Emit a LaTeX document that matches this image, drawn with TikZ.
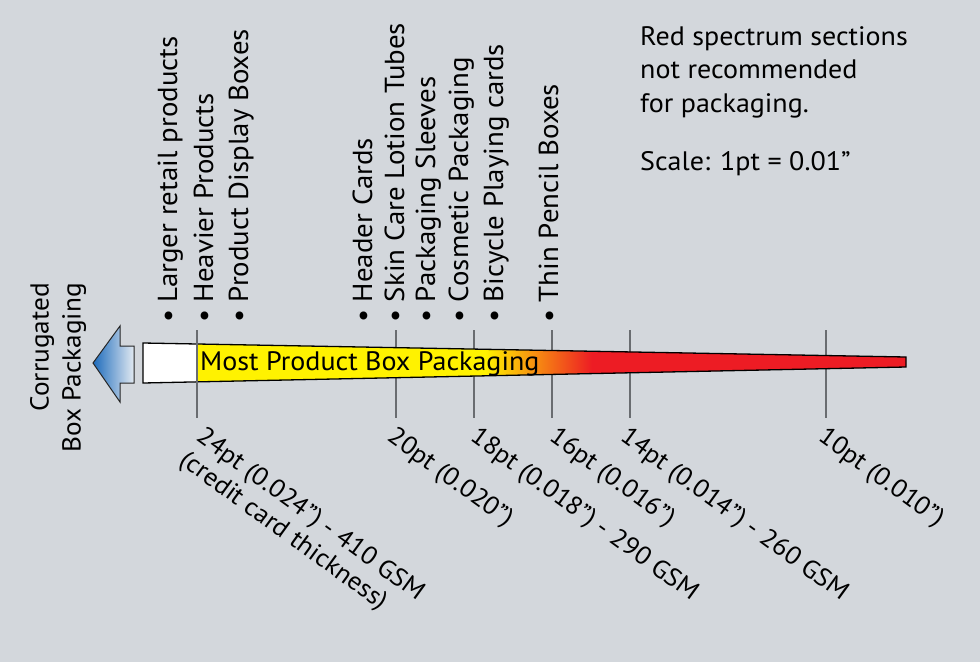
\documentclass[tikz,border=0pt]{standalone}
\usepackage{fontspec}
\setmainfont{PT Sans}[FakeStretch=1.05]
\usetikzlibrary{calc}
\definecolor{bggray}{RGB}{211,215,220}
\definecolor{tickgray}{RGB}{105,108,112}
\definecolor{wedgeyellow}{RGB}{255,242,0}
\definecolor{wedgered}{RGB}{237,28,36}
\definecolor{arrowblue}{RGB}{30,108,188}
\definecolor{arrowpale}{RGB}{226,233,241}
\newcommand{\bigfont}{\fontsize{26.7}{32}\selectfont}
\tikzset{item/.style={rotate=90,anchor=base west,inner sep=0pt,font=\fontsize{27.5}{32}\selectfont},
  gauge/.style={rotate=-36,anchor=north west,inner sep=0pt,align=left,font=\fontsize{25.5}{29}\selectfont},
  tickline/.style={draw=tickgray,line width=1.3pt},
  outline/.style={draw=black,line width=1.3pt}}

\begin{document}
\begin{tikzpicture}[x=1pt,y=-1pt]
\fill[bggray] (0,0) rectangle (980,662);
\useasboundingbox (0,0) rectangle (980,662);
% thickness ticks
\foreach \x/\n in {396/20,474/18,552/16,630/14,826/10}{\coordinate (t\n) at (\x,330); \draw[tickline] (t\n) -- ++(0,88);}
% wedge
\coordinate (wtl) at (143,343); \coordinate (wbl) at (143,383); \coordinate (wtr) at (906,357); \coordinate (wbr) at (906,367);
\coordinate (ytl) at (197,344); \coordinate (ybl) at (197,382);
\fill[white] (wtl) -- (ytl) -- (ybl) -- (wbl) -- cycle;
\begin{scope}
\clip (ytl) -- (wtr) -- (wbr) -- (ybl) -- cycle;
\fill[wedgeyellow] (197,330) rectangle (485,400);
\shade[left color=wedgeyellow,right color=wedgered] (485,330) rectangle (592,400);
\fill[wedgered] (592,330) rectangle (910,400);
\end{scope}
\draw[outline] (wtl) -- (wtr) -- (wbr) -- (wbl) -- cycle;
\coordinate (t24) at (197,330); \draw[tickline] (t24) -- ++(0,88);
\node[anchor=base west,inner sep=0pt,font=\bigfont] (most) at (200,370){Most Product Box Packaging};
% corrugated arrow
\shade[left color=arrowblue,right color=arrowpale,draw=black!85,line width=1pt] (93,363) -- (120,326) -- (120,346) -- (134,346) -- (134,383) -- (120,383) -- (120,402) -- cycle;
\node[rotate=90,anchor=east,align=right,inner sep=0pt,font=\fontsize{26}{32}\selectfont] (corr) at (58,283){Corrugated\\Box Packaging};
% product items
\node[item] (i1) at (177,323){• Larger retail products}; \node[item] (i2) at (213,323){• Heavier Products};
\node[item] (i3) at (248,323){• Product Display Boxes}; \node[item] (i4) at (372,323){• Header Cards};
\node[item] (i5) at (404,323){• Skin Care Lotion Tubes}; \node[item] (i6) at (435,323){• Packaging Sleeves};
\node[item] (i7) at (468,323){• Cosmetic Packaging}; \node[item] (i8) at (503,323){• Bicycle Playing cards};
\node[item] (i9) at (558,323){• Thin Pencil Boxes};
% gauge labels
\node[gauge] (g24) at (206,425){24pt (0.024”) - 410 GSM\\(credit card thickness)};
\node[gauge] (g20) at (397,425){20pt (0.020”)}; \node[gauge] (g18) at (480,425){18pt (0.018”) - 290 GSM};
\node[gauge] (g16) at (559,425){16pt (0.016”)}; \node[gauge] (g14) at (630,425){14pt (0.014”) - 260 GSM};
\node[gauge] (g10) at (828,425){10pt (0.010”)};
% note
\node[anchor=north west,align=left,inner sep=0pt,font=\fontsize{26.7}{33.5}\selectfont] (note) at (640,26){Red spectrum sections\\not recommended\\for packaging.};
\node[anchor=base west,inner sep=0pt,font=\bigfont] (scale) at (640,170){Scale: 1pt = 0.01”};
\end{tikzpicture}
\end{document}
